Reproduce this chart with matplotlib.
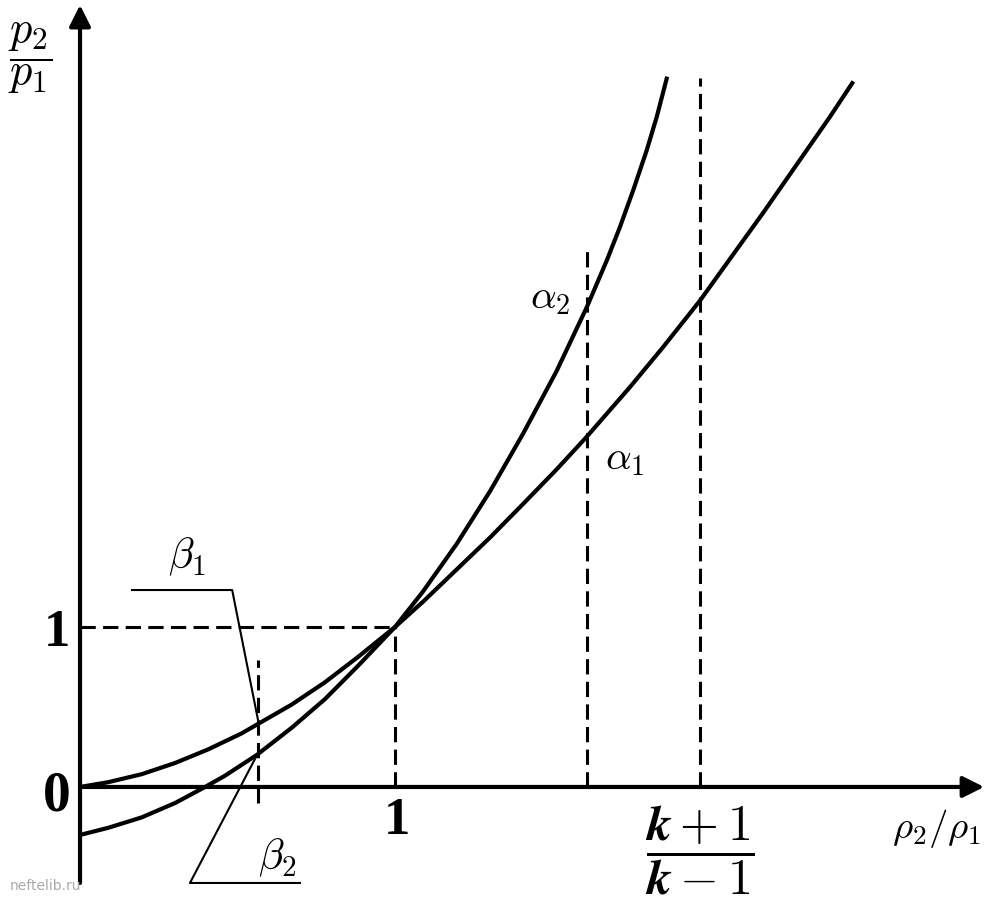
import matplotlib
matplotlib.use('Agg')
import matplotlib.pyplot as plt

plt.rcParams['mathtext.fontset'] = 'cm'

rho_adiabat = [0.0, 0.090, 0.196, 0.302, 0.407, 0.513, 0.566, 0.672, 0.778, 0.884, 1.0,
               1.090, 1.196, 1.302, 1.407, 1.513, 1.609, 1.746, 1.852, 1.968, 2.063, 2.169,
               2.275, 2.381, 2.455]
p_adiabat = [0.0, 0.030, 0.080, 0.150, 0.235, 0.335, 0.395, 0.515, 0.655, 0.815, 1.0,
             1.160, 1.360, 1.560, 1.770, 1.985, 2.190, 2.500, 2.752, 3.040, 3.300, 3.590,
             3.890, 4.190, 4.410]

rho_hugoniot = [0.0, 0.090, 0.196, 0.302, 0.397, 0.460, 0.561, 0.672, 0.778, 0.884, 1.0,
                1.090, 1.196, 1.302, 1.407, 1.513, 1.609, 1.672, 1.714, 1.757, 1.799,
                1.831, 1.864]
p_hugoniot = [-0.300, -0.255, -0.190, -0.100, 0.0, 0.070, 0.200, 0.370, 0.550, 0.760, 1.0,
              1.225, 1.520, 1.850, 2.210, 2.600, 3.000, 3.290, 3.500, 3.735, 3.980,
              4.190, 4.440]

x_beta = 0.565
x_alpha = 1.61
x_limit = 1.968

fig = plt.figure(figsize=(9.86, 9.02), dpi=100)
ax = fig.add_axes([0, 0, 1, 1])
ax.set_xlim(-0.254, 2.876)
ax.set_ylim(-0.719, 4.919)
ax.axis('off')

# Achsen mit Pfeilen
arrow = dict(arrowstyle='-|>', lw=3, color='k', mutation_scale=32, shrinkA=0, shrinkB=0)
ax.annotate('', xy=(2.87, 0), xytext=(0, 0), arrowprops=arrow)
ax.annotate('', xy=(0, 4.888), xytext=(0, -0.6), arrowprops=arrow)

# Kurven
ax.plot(rho_adiabat, p_adiabat, color='k', lw=3, solid_capstyle='butt', solid_joinstyle='round')
ax.plot(rho_hugoniot, p_hugoniot, color='k', lw=3, solid_capstyle='butt', solid_joinstyle='round')

# gestrichelte Hilfslinien
dash = dict(color='k', lw=2.2, dashes=(5, 2.4))
ax.plot([0, 1], [1, 1], **dash)
ax.plot([1, 1], [0, 1], **dash)
ax.plot([x_beta, x_beta], [-0.1, 0.794], **dash)
ax.plot([x_alpha, x_alpha], [0, 3.39], **dash)
ax.plot([x_limit, x_limit], [0, 4.43], **dash)

# Hinweislinien fuer beta
ax.plot([0.165, 0.483, 0.565], [1.231, 1.231, 0.419], color='k', lw=1.5)
ax.plot([0.562, 0.349, 0.698], [0.2, -0.6, -0.6], color='k', lw=1.5)

# Beschriftungen
ax.text(-0.157, 4.556, r'$\dfrac{p_2}{p_1}$', fontsize=32, ha='center', va='center')
ax.text(-0.03, 0.96, '1', fontsize=38, fontfamily='Liberation Serif', fontweight='bold',
        ha='right', va='center')
ax.text(-0.03, -0.06, '0', fontsize=40, fontfamily='Liberation Serif', fontweight='bold',
        ha='right', va='center')
ax.text(1.006, -0.21, '1', fontsize=38, fontfamily='Liberation Serif', fontweight='bold',
        ha='center', va='center')
ax.text(1.968, -0.394, r'$\dfrac{\mathbfit{k}+\mathbf{1}}{\mathbfit{k}-\mathbf{1}}$', fontsize=36,
        ha='center', va='center')
ax.text(2.72, -0.26, r'$\rho_2/\rho_1$', fontsize=28, ha='center', va='center')
ax.text(1.492, 3.06, r'$\alpha_2$', fontsize=29, ha='center', va='center')
ax.text(1.73, 2.056, r'$\alpha_1$', fontsize=29, ha='center', va='center')
ax.text(0.34, 1.44, r'$\beta_1$', fontsize=30, ha='center', va='center')
ax.text(0.625, -0.444, r'$\beta_2$', fontsize=30, ha='center', va='center')

fig.text(0.046, 0.01, 'neftelib.ru', fontsize=10, color='#aaaaaa', ha='center', va='bottom')

fig.savefig('out.png', dpi=100, facecolor='white')
